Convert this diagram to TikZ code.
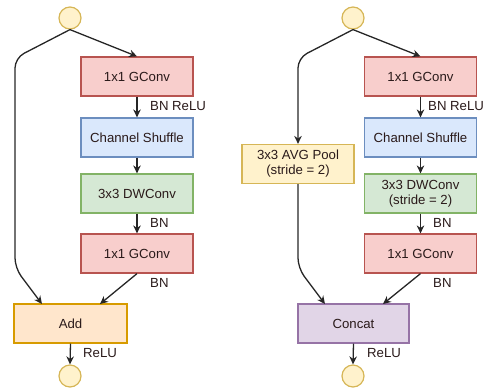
\documentclass[tikz,border=0pt]{standalone}
\usepackage{fontspec}
\setmainfont{Liberation Sans}
\usetikzlibrary{arrows.meta,calc}
\definecolor{redF}{HTML}{F8CECC}\definecolor{redD}{HTML}{B85450}
\definecolor{bluF}{HTML}{DAE8FC}\definecolor{bluD}{HTML}{6C8EBF}
\definecolor{grnF}{HTML}{D5E8D4}\definecolor{grnD}{HTML}{82B366}
\definecolor{orgF}{HTML}{FFE6CC}\definecolor{orgD}{HTML}{D79B00}
\definecolor{yelF}{HTML}{FFF2CC}\definecolor{yelD}{HTML}{D6B656}
\definecolor{purF}{HTML}{E1D5E7}\definecolor{purD}{HTML}{9673A6}
\definecolor{txt}{HTML}{2A1A1A}
\begin{document}
\begin{tikzpicture}[x=1pt,y=-1pt,
  every node/.style={font=\fontsize{13.2}{15}\selectfont, text=txt},
  blk/.style={draw, line width=1.2pt, minimum width=112pt, minimum height=39pt, inner sep=0pt, align=center},
  redbox/.style={blk, fill=redF, draw=redD},
  bluebox/.style={blk, fill=bluF, draw=bluD},
  greenbox/.style={blk, fill=grnF, draw=grnD},
  addbox/.style={blk, fill=orgF, draw=orgD, minimum width=113pt},
  poolbox/.style={blk, fill=yelF, draw=yelD},
  catbox/.style={blk, fill=purF, draw=purD, minimum width=111pt},
  port/.style={circle, draw=yelD, fill=yelF, line width=1.2pt, minimum size=22pt, inner sep=0pt},
  lbl/.style={anchor=west, inner sep=0pt},
  conn/.style={line width=1.3pt, draw=black!85, -{Stealth[length=8pt,width=7.5pt]}, rounded corners=10pt}]
\useasboundingbox (0,0) rectangle (485,389);
% left unit
\node[port] (lin) at (70,18) {};
\node[redbox] (lg1) at (137,76.5) {1x1 GConv};
\node[bluebox] (lsh) at (137,137.5) {Channel Shuffle};
\node[greenbox] (ldw) at (137,193.5) {3x3 DWConv};
\node[redbox] (lg2) at (137,253.5) {1x1 GConv};
\node[addbox] (add) at (70.5,323.5) {Add};
\node[port] (lout) at (70,376) {};
\coordinate (la1) at (15,58);
\coordinate (la2) at (15,268);
\coordinate (laddin) at (42,304);
\coordinate (laddin2) at (100,304);
\draw[conn] (lin.south) -- (lg1.north);
\draw[conn] (lg1.south) -- (lsh.north);
\draw[conn] (lsh.south) -- (ldw.north);
\draw[conn] (ldw.south) -- (lg2.north);
\draw[conn] (lin.south) -- (la1) -- (la2) -- (laddin);
\draw[conn] (lg2.south) -- (laddin2);
\draw[conn] (add.south) -- (lout.north);
\node[lbl] (lt1) at (150,106) {BN ReLU};
\node[lbl] (lt2) at (150,223) {BN};
\node[lbl] (lt3) at (150,283) {BN};
\node[lbl] (lt4) at (83,353) {ReLU};
% right unit
\node[port] (rin) at (353,18) {};
\node[redbox] (rg1) at (420.5,76.5) {1x1 GConv};
\node[bluebox] (rsh) at (420.5,137.5) {Channel Shuffle};
\node[greenbox, align=center] (rdw) at (420.5,193.5) {3x3 DWConv\\(stride = 2)};
\node[redbox] (rg2) at (420.5,253.5) {1x1 GConv};
\node[poolbox] (pool) at (298,164) {3x3 AVG Pool\\(stride = 2)};
\node[catbox] (cat) at (353.5,323.5) {Concat};
\node[port] (rout) at (353,376) {};
\coordinate (ra1) at (298,58);
\coordinate (ra2) at (298,268);
\coordinate (rcatin) at (325,304);
\coordinate (rcatin2) at (383,304);
\draw[conn] (rin.south) -- (rg1.north);
\draw[conn] (rg1.south) -- (rsh.north);
\draw[conn] (rsh.south) -- (rdw.north);
\draw[conn] (rdw.south) -- (rg2.north);
\draw[conn] (rin.south) -- (ra1) -- (pool.north);
\draw[conn] (pool.south) -- (ra2) -- (rcatin);
\draw[conn] (rg2.south) -- (rcatin2);
\draw[conn] (cat.south) -- (rout.north);
\node[lbl] (rt1) at (428,106) {BN ReLU};
\node[lbl] (rt2) at (433,223) {BN};
\node[lbl] (rt3) at (433,283) {BN};
\node[lbl] (rt4) at (367,353) {ReLU};
\end{tikzpicture}
\end{document}
